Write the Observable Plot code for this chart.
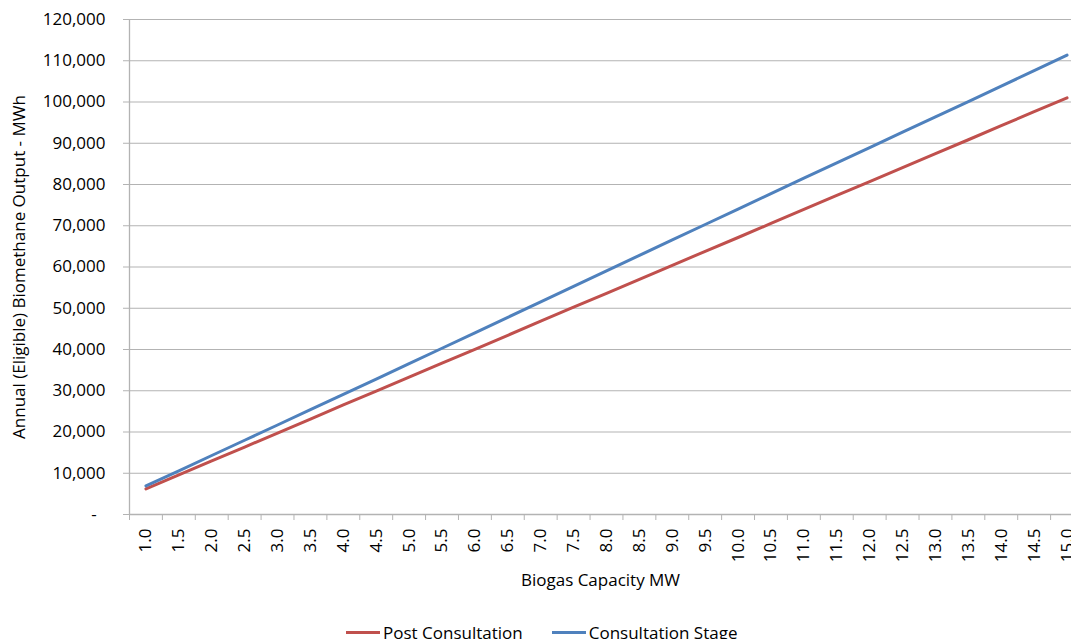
<!DOCTYPE html>
<html>
<head>
<meta charset="utf-8">
<script src="https://cdn.jsdelivr.net/npm/d3@7"></script>
<script src="https://cdn.jsdelivr.net/npm/@observablehq/plot@0.6"></script>
<style>
  html, body { margin: 0; padding: 0; background: #fff; }
  body { width: 1071px; height: 639px; overflow: hidden; position: relative; font-family: "Open Sans", sans-serif; }
  #chart svg { display: block; }
  .legend { position: absolute; left: 346px; top: 619px; height: 26px; display: flex; align-items: center; font-size: 17px; color: #000; }
  .legend .item { display: flex; align-items: center; margin-right: 29px; }
  .legend .swatch { width: 34px; height: 3px; margin-right: 3px; }
</style>
</head>
<body>
<div id="chart"></div>
<div class="legend" id="legend"></div>
<script>
// Biogas plant capacity (MW) categories
const capacityMW = [1.0, 1.5, 2.0, 2.5, 3.0, 3.5, 4.0, 4.5, 5.0, 5.5, 6.0, 6.5, 7.0, 7.5, 8.0,
  8.5, 9.0, 9.5, 10.0, 10.5, 11.0, 11.5, 12.0, 12.5, 13.0, 13.5, 14.0, 14.5, 15.0];

// Annual eligible biomethane output (MWh)
const postConsultation = [6200, 9600, 13000, 16350, 19750, 23150, 26550, 29900, 33300, 36700,
  40050, 43450, 46850, 50250, 53600, 57000, 60400, 63800, 67150, 70550, 73950, 77350, 80700,
  84100, 87500, 90850, 94250, 97650, 101000];
const consultationStage = [6950, 10600, 14300, 18000, 21700, 25400, 29100, 32800, 36550, 40300,
  44050, 47800, 51550, 55300, 59050, 62800, 66550, 70300, 74050, 77800, 81550, 85250, 88950,
  92700, 96400, 100100, 103850, 107600, 111350];

const seriesNames = ["Post Consultation", "Consultation Stage"];
const seriesColors = ["#c0504d", "#4f81bd"];
const yTicks = [0, 10000, 20000, 30000, 40000, 50000, 60000, 70000, 80000, 90000, 100000, 110000, 120000];

const rows = [];
capacityMW.forEach((mw, i) => {
  rows.push({mw, value: postConsultation[i], series: seriesNames[0]});
  rows.push({mw, value: consultationStage[i], series: seriesNames[1]});
});

// Category boundaries (half a step either side of each capacity) carry the x tick marks
const halfStep = (capacityMW[1] - capacityMW[0]) / 2;
const boundaries = capacityMW.map(d => d - halfStep).concat([capacityMW[capacityMW.length - 1] + halfStep]);

const axisColor = "#b3b3b3";
const font = "Open Sans";
const fs = 17;

const chart = Plot.plot({
  width: 1071,
  height: 605,
  marginLeft: 129,
  marginRight: 0,
  marginTop: 19,
  marginBottom: 91,
  style: {fontFamily: font, fontSize: fs + "px", color: "#000", background: "#fff", overflow: "hidden"},
  x: {type: "linear", domain: [boundaries[0], boundaries[boundaries.length - 1]], range: [129, 1083]},
  y: {domain: [0, 120000]},
  color: {domain: seriesNames, range: seriesColors},
  marks: [
    Plot.gridY(yTicks, {stroke: axisColor, strokeOpacity: 1, strokeWidth: 1}),
    Plot.ruleY([0], {stroke: axisColor, strokeWidth: 1.3}),
    Plot.ruleX([boundaries[0]], {y1: 0, y2: 120000, stroke: axisColor, strokeWidth: 1.3}),
    Plot.axisY({
      ticks: yTicks, tickSize: 6, tickPadding: 18, stroke: axisColor, label: null, fontSize: fs,
      tickFormat: d => d === 0 ? "-\u00a0\u00a0" : d3.format(",")(d)
    }),
    Plot.axisX({ticks: boundaries, tickSize: 6, stroke: axisColor, tickFormat: () => "", label: null}),
    Plot.axisX({
      ticks: capacityMW, tickSize: 0, tickPadding: 14, tickRotate: -90, label: null, fontSize: fs,
      tickFormat: d3.format(".1f")
    }),
    Plot.line(rows, {x: "mw", y: "value", z: "series", stroke: "series", strokeWidth: 3}),
    Plot.text(["Annual (Eligible) Biomethane Output - MWh"], {
      frameAnchor: "left", dx: -110, rotate: -90, textAnchor: "middle", lineAnchor: "middle", fontSize: fs
    }),
    Plot.text(["Biogas Capacity MW"], {
      frameAnchor: "bottom", dy: 66, textAnchor: "middle", lineAnchor: "middle", fontSize: fs
    })
  ]
});
document.getElementById("chart").appendChild(chart);

const legend = document.getElementById("legend");
seriesNames.forEach((name, i) => {
  const item = document.createElement("div");
  item.className = "item";
  const sw = document.createElement("span");
  sw.className = "swatch";
  sw.style.background = seriesColors[i];
  const label = document.createElement("span");
  label.textContent = name;
  item.appendChild(sw);
  item.appendChild(label);
  legend.appendChild(item);
});
</script>
</body>
</html>
